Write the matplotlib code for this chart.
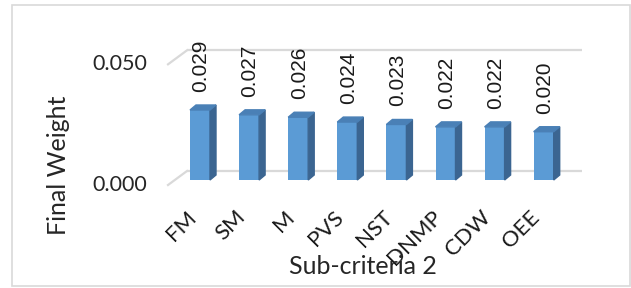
import matplotlib
matplotlib.use("Agg")
import matplotlib.pyplot as plt
from matplotlib.patches import Polygon, Rectangle

categories = ["FM", "SM", "M", "PVS", "NST", "DNMP", "CDW", "OEE"]
weights = [0.029, 0.027, 0.026, 0.024, 0.023, 0.022, 0.022, 0.020]
labels = ["0.029", "0.027", "0.026", "0.024", "0.023", "0.022", "0.022", "0.020"]
yticks = [0.0, 0.05]
ytick_labels = ["0.000", "0.050"]

W, H = 631, 288
SP = 49.1      # pixels per category
VP = 2414.0    # pixels per unit of value
X0, Y0 = 200, 180  # pixel of first bar centre / bar base

front_c = "#5b9bd5"
top_c = "#4a80b6"
side_c = "#3b6591"
grid_c = "#d9d9d9"

fig = plt.figure(figsize=(W / 100, H / 100), dpi=100)
ax = fig.add_axes([0, 0, 1, 1])
ax.set_xlim(-X0 / SP, (W - X0) / SP)
ax.set_ylim((Y0 - H) / VP, Y0 / VP)
ax.axis("off")

# 3d offsets, in data units
bw = 20 / SP
ddx, ddy = 6 / SP, 5 / VP          # bar depth
bdx, bdy = 12.2 / SP, 9 / VP       # back wall
fdx, fdy = -6.8 / SP, -5 / VP      # front edge
cx0, cx1 = -0.513, 7.53

# gridlines on back wall + floor diagonal
for v in yticks:
    ax.plot([cx0 + bdx, cx1 + bdx], [v + bdy, v + bdy], color=grid_c, lw=1.6,
            solid_capstyle="butt", zorder=1)
    ax.plot([cx0 + fdx, cx0 + bdx], [v + fdy, v + bdy], color=grid_c, lw=1.6,
            zorder=1)

for t, tl in zip(yticks, ytick_labels):
    ax.text(cx0 + fdx - 21 / SP, t + fdy, tl, ha="right", va="center",
            fontsize=15.5, family="Lato", color="#262626")

# bars
for i, v in enumerate(weights):
    l, r = i - bw / 2, i + bw / 2
    ax.bar(i, v, width=bw, color=front_c, zorder=3)
    ax.add_patch(Polygon([(r, 0), (r + ddx, ddy), (r + ddx, v + ddy), (r, v)],
                         closed=True, color=side_c, zorder=3))
    ax.add_patch(Polygon([(l, v), (r, v), (r + ddx, v + ddy), (l + ddx, v + ddy)],
                         closed=True, color=top_c, zorder=3))
    ax.text(i + 1 / SP, v + 18 / VP, labels[i], rotation=90, ha="center",
            va="bottom", fontsize=15, family="Liberation Sans", color="#1a1a1a")
    ax.text(i - 7 / SP, -34 / VP, categories[i], rotation=45, ha="right",
            va="center", rotation_mode="anchor", fontsize=16, family="Lato",
            color="#1a1a1a")

fig.text(59 / W, 1 - 165 / H, "Final Weight", rotation=90, ha="center",
         va="center", fontsize=18, family="Lato", color="#262626")
fig.text(363 / W, 1 - 267 / H, "Sub-criteria 2", ha="center", va="center",
         fontsize=18, family="Lato", color="#262626")

fig.patches.append(Rectangle((12 / W, 2 / H), 618 / W, 281 / H, fill=False,
                             edgecolor=grid_c, lw=1.2, transform=fig.transFigure))

fig.savefig("out.png", dpi=100)
